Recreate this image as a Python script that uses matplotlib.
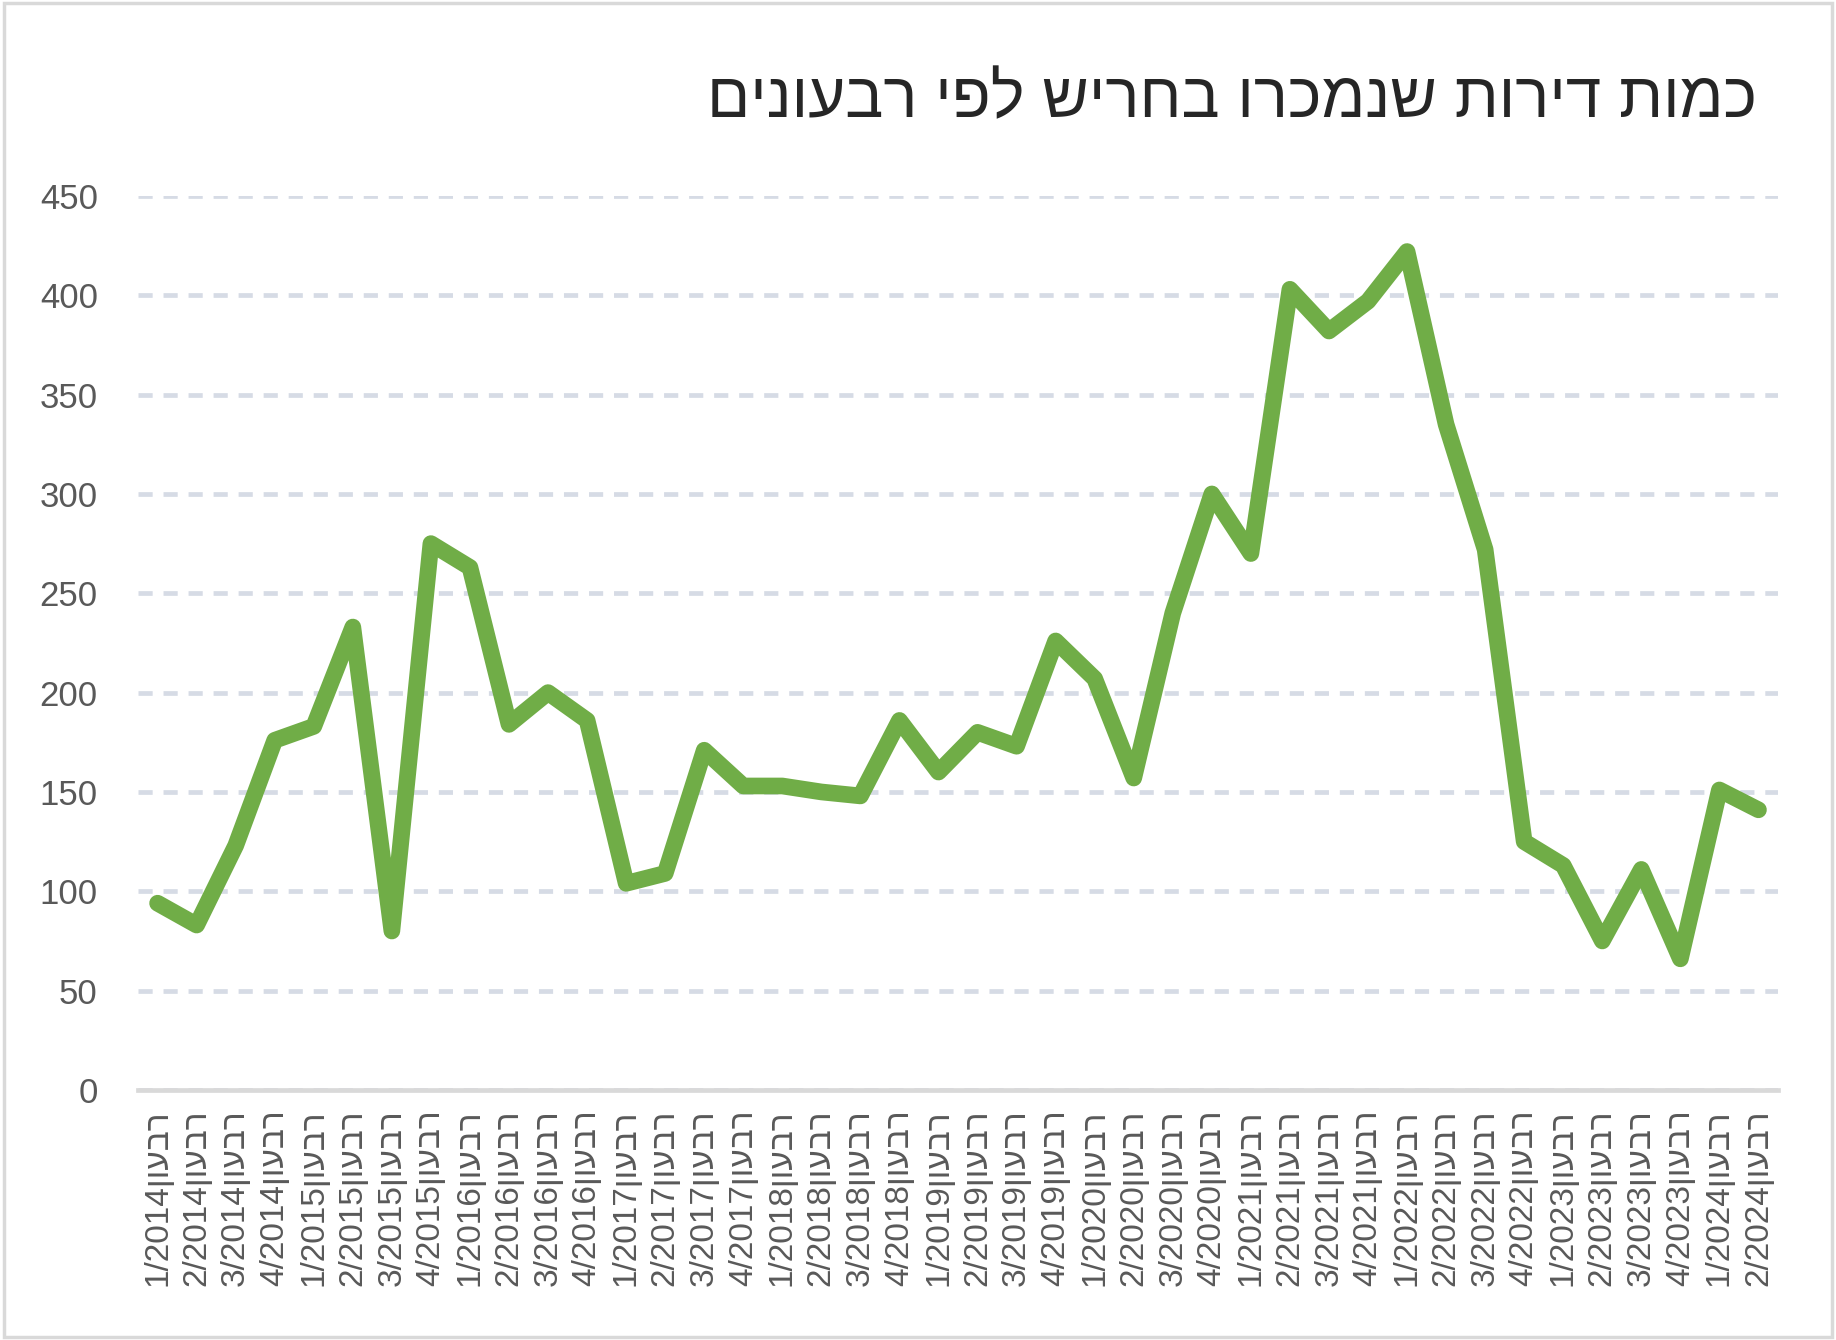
import matplotlib
matplotlib.use("Agg")
import matplotlib.pyplot as plt
from matplotlib.patches import Rectangle

# quarters, oldest first
quarters = ["1/2014", "2/2014", "3/2014", "4/2014",
            "1/2015", "2/2015", "3/2015", "4/2015",
            "1/2016", "2/2016", "3/2016", "4/2016",
            "1/2017", "2/2017", "3/2017", "4/2017",
            "1/2018", "2/2018", "3/2018", "4/2018",
            "1/2019", "2/2019", "3/2019", "4/2019",
            "1/2020", "2/2020", "3/2020", "4/2020",
            "1/2021", "2/2021", "3/2021", "4/2021",
            "1/2022", "2/2022", "3/2022", "4/2022",
            "1/2023", "2/2023", "3/2023", "4/2023",
            "1/2024", "2/2024"]
sold = [94, 83, 123, 176, 183, 233, 80, 275,
        263, 184, 200, 186, 104, 109, 171, 153,
        153, 150, 148, 186, 160, 180, 173, 226,
        207, 157, 240, 300, 270, 403, 382, 397,
        422, 335, 272, 125, 113, 75, 111, 66,
        151, 141]
y_ticks = [0, 50, 100, 150, 200, 250, 300, 350, 400, 450]

title = "כמות דירות שנמכרו בחריש לפי רבעונים"
quarter_word = "רבעון"

plt.rcParams['font.family'] = ['Liberation Sans', 'DejaVu Sans']


def visual(s):
    # matplotlib has no bidi support, so lay Hebrew out right-to-left by hand
    return s[::-1]


fig = plt.figure(figsize=(18.36, 13.4), dpi=100)
fig.patches.append(Rectangle((0.002, 0.002), 0.996, 0.996, transform=fig.transFigure,
                             fill=False, edgecolor='#d9d9d9', linewidth=2.5))

ax = fig.add_axes([0.0752, 0.1866, 0.8932, 0.6672])
x = list(range(len(quarters)))
ax.plot(x, sold, color='#70ad47', linewidth=12, solid_joinstyle='round',
        solid_capstyle='round', zorder=3)

ax.set_xlim(-0.5, len(quarters) - 0.5)
ax.set_ylim(0, 450)
ax.set_yticks(y_ticks)
ax.set_yticklabels([str(v) for v in y_ticks], fontsize=25, color='#595959')
ax.set_xticks(x)
ax.set_xticklabels([q + visual(quarter_word) for q in quarters], rotation=90,
                   fontsize=24, color='#595959')
ax.tick_params(axis='both', length=0)
ax.tick_params(axis='y', pad=29)
ax.tick_params(axis='x', pad=14)

ax.grid(axis='y', color='#d6dbe5', linestyle=(0, (3, 2.3)), linewidth=3.4)
for side in ['top', 'right', 'left']:
    ax.spines[side].set_visible(False)
ax.spines['bottom'].set_color('#d9d9d9')
ax.spines['bottom'].set_linewidth(3.4)
ax.set_axisbelow(True)

fig.text(0.957, 0.925, visual(title), ha='right', va='center', fontsize=46,
         color='#262626')

fig.savefig("out.png", dpi=100)
